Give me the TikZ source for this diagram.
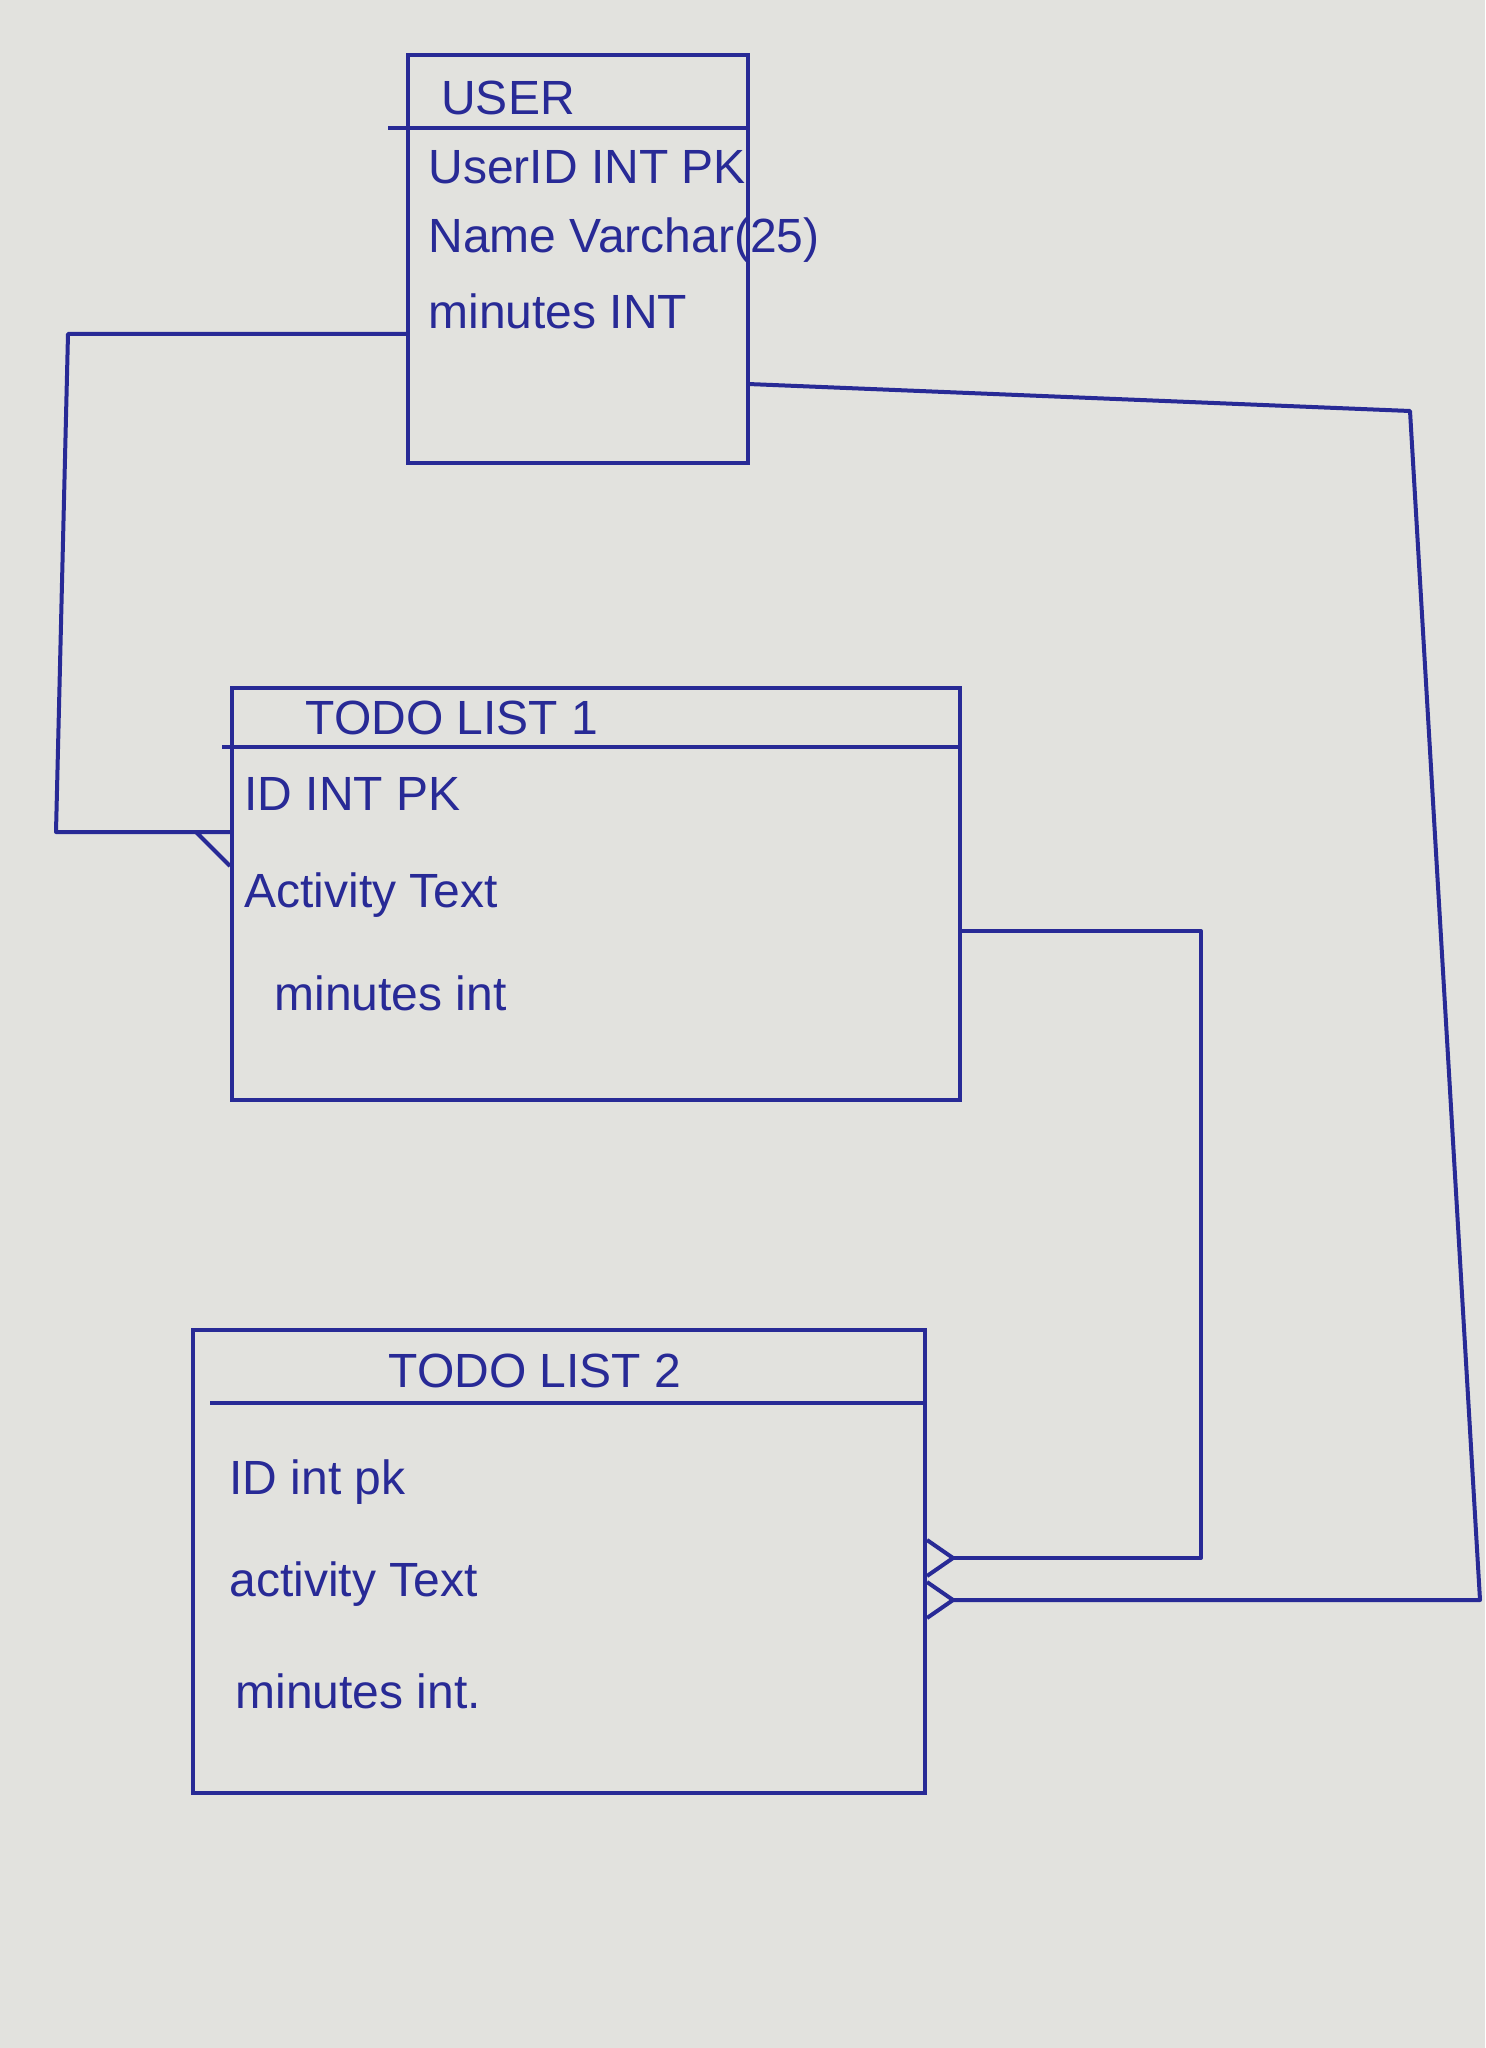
\documentclass[tikz,border=0pt]{standalone}
\usepackage{fontspec}
\setmainfont{Liberation Sans}
\usetikzlibrary{fit}
\definecolor{ink}{RGB}{40,42,150}
\definecolor{paper}{RGB}{226,226,222}
\begin{document}
\begin{tikzpicture}[x=0.5pt,y=-0.5pt,
  box/.style={draw=ink, line width=2pt, inner sep=0pt},
  link/.style={draw=ink, line width=2pt, line join=round},
  foot/.style={draw=ink, line width=2pt, line join=round},
  lbl/.style={text=ink, anchor=west, inner sep=0pt, font=\fontsize{24}{28}\selectfont},
  ttl/.style={text=ink, anchor=center, inner sep=0pt, font=\fontsize{24}{28}\selectfont}]
\fill[paper] (0,0) rectangle (1485,2048);
\useasboundingbox (0,0) rectangle (1485,2048);

% USER
\coordinate (u1) at (408,55);
\coordinate (u2) at (748,463);
\node[box, fit=(u1)(u2)] (user) {};
\coordinate (uh) at (388,128);
\draw[link] (uh) -- (user.east |- uh);
\node[ttl] (utitle) at (508,98) {USER};
\node[lbl] (ur1) at (428,167) {UserID INT PK};
\node[lbl] (ur2) at (428,240) {Name Varchar(25)};
\node[lbl] (ur3) at (428,311) {minutes INT};

% TODO LIST 1
\coordinate (t1a) at (232,688);
\coordinate (t1b) at (960,1100);
\node[box, fit=(t1a)(t1b)] (todo1) {};
\coordinate (t1h) at (222,747);
\draw[link] (t1h) -- (todo1.east |- t1h);
\node[ttl] (t1title) at (452,718) {TODO LIST 1};
\node[lbl] (t1r1) at (244,794) {ID INT PK};
\node[lbl] (t1r2) at (244,895) {Activity Text};
\node[lbl] (t1r3) at (274,993) {minutes int};

% TODO LIST 2
\coordinate (t2a) at (193,1330);
\coordinate (t2b) at (925,1793);
\node[box, fit=(t2a)(t2b)] (todo2) {};
\coordinate (t2h) at (210,1403);
\draw[link] (t2h) -- (todo2.east |- t2h);
\node[ttl] (t2title) at (535,1371) {TODO LIST 2};
\node[lbl] (t2r1) at (229,1482) {ID int pk};
\node[lbl] (t2r2) at (229,1584) {activity Text};
\node[lbl] (t2r3) at (235,1691) {minutes int.};

% connector USER -> TODO LIST 1 (left)
\coordinate (c1a) at (68,334);
\coordinate (c1b) at (56,832);
\coordinate (c1tip) at (196,832);
\draw[link] (user.west |- c1a) -- (c1a) -- (c1b) -- (c1tip);
\draw[foot] (todo1.west |- c1tip) -- (c1tip) -- ([yshift=-17pt]todo1.west |- c1tip);

% connector TODO LIST 1 -> TODO LIST 2 (upper)
\coordinate (c2a) at (1201,931);
\coordinate (c2b) at (1201,1558);
\coordinate (c2tip) at (953,1558);
\draw[link] (todo1.east |- c2a) -- (c2a) -- (c2b) -- (c2tip);
\draw[foot] ([yshift=9pt]todo2.east |- c2tip) -- (c2tip) -- ([yshift=-9pt]todo2.east |- c2tip);

% connector USER -> TODO LIST 2 (outer right)
\coordinate (c3s) at (748,384);
\coordinate (c3a) at (1410,411);
\coordinate (c3b) at (1480,1600);
\coordinate (c3tip) at (953,1600);
\draw[link] (c3s) -- (c3a) -- (c3b) -- (c3tip);
\draw[foot] ([yshift=9pt]todo2.east |- c3tip) -- (c3tip) -- ([yshift=-9pt]todo2.east |- c3tip);
\end{tikzpicture}
\end{document}
